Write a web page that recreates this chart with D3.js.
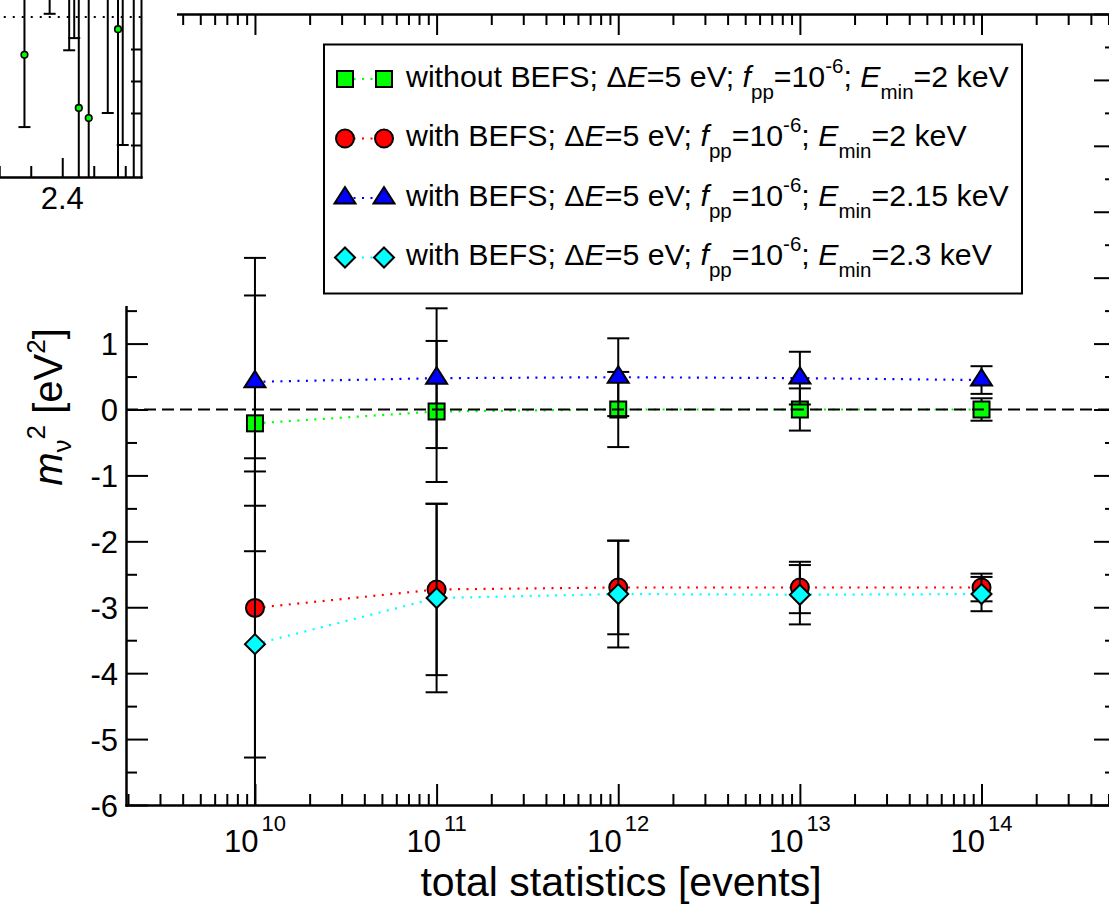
<!DOCTYPE html>
<html>
<head>
<meta charset="utf-8">
<script src="https://cdnjs.cloudflare.com/ajax/libs/d3/7.8.5/d3.min.js"></script>
<style>
  html, body { margin: 0; padding: 0; background: #fff; overflow: hidden; }
  svg { display: block; font-family: "Liberation Sans", Arial, Helvetica, sans-serif; }
</style>
</head>
<body>
<svg id="chart" width="1109" height="904"></svg>
<script>
// ---- data -------------------------------------------------------------
// total statistics (number of events) of each simulated measurement
const statistics = [1e10, 1e11, 1e12, 1e13, 1e14];

// fitted m_nu^2 [eV^2] and its 1-sigma uncertainty
const noBefsEmin2      = [-0.21, -0.03, 0.00, 0.00, 0.00];
const noBefsEmin2Err   = [1.94, 1.07, 0.57, 0.32, 0.17];
const befsEmin2        = [-3.01, -2.73, -2.70, -2.70, -2.70];
const befsEmin2Err     = [2.27, 1.30, 0.71, 0.39, 0.21];
const befsEmin215      = [0.42, 0.475, 0.49, 0.476, 0.447];
const befsEmin215Err   = [1.88, 1.06, 0.59, 0.40, 0.21];
const befsEmin23       = [-3.56, -2.86, -2.80, -2.81, -2.80];
const befsEmin23Err    = [2.62, 1.43, 0.81, 0.45, 0.26];

// legend texts
const seriesNames = ["without BEFS", "with BEFS", "with BEFS", "with BEFS"];
const eMinLabels  = ["2", "2", "2.15", "2.3"];

// axis tick labels
const xTickBase      = "10";
const xTickExponents = ["10", "11", "12", "13", "14"];
const yTickValues    = [-6, -5, -4, -3, -2, -1, 0, 1, 2, 3, 4, 5, 6];

// inset: m_nu^2 as a function of the lower fit boundary E_min [keV]
const insetEmin = [2.376, 2.392, 2.4044, 2.4076, 2.4105, 2.4168, 2.4289, 2.4354, 2.4384, 2.4454];
const insetMass = [-0.59, 0.90, 0.60, 0.80, -1.42, -1.58, 0.50, -0.19, 0.40, 0.60];
const insetErr  = [1.13, 0.85, 1.12, 1.13, 1.75, 1.90, 2.00, 2.40, 2.40, 3.20];
const insetXTicksMajor = [2.3, 2.4];
const insetXTicksMinor = [2.32, 2.34, 2.36, 2.38, 2.42, 2.44];
const insetYTicks = [0.5, -0.5, -1.0, -1.5, -2.0];
const insetXLabels = ["2.4"];

// ---- layout -----------------------------------------------------------
const svg = d3.select("#chart");
const plotL = 126, plotR = 1116, plotT = 14, plotB = 805;

const x = d3.scaleLog().domain([1.95e9, 5.5e14]).range([plotL, plotR]);
const y = d3.scaleLinear().domain([-6, 6]).range([plotB, plotT]);

const series = [
  { values: noBefsEmin2, errors: noBefsEmin2Err, color: "#00ff00", symbol: "square" },
  { values: befsEmin2,   errors: befsEmin2Err,   color: "#ff0000", symbol: "circle" },
  { values: befsEmin215, errors: befsEmin215Err, color: "#0000ff", symbol: "triangle" },
  { values: befsEmin23,  errors: befsEmin23Err,  color: "#00ffff", symbol: "diamond" }
];

// symbol outlines, centred on the data point
function drawSymbol(g, kind, cx, cy, color) {
  const common = s => s.attr("fill", color).attr("stroke", "#000").attr("stroke-width", 2);
  if (kind === "square") {
    common(g.append("rect").attr("x", cx - 8).attr("y", cy - 8).attr("width", 16).attr("height", 16));
  } else if (kind === "circle") {
    common(g.append("circle").attr("cx", cx).attr("cy", cy).attr("r", 9));
  } else if (kind === "triangle") {
    const pts = [[cx, cy - 11], [cx - 10.5, cy + 5.5], [cx + 10.5, cy + 5.5]];
    common(g.append("polygon").attr("points", pts.map(p => p.join(",")).join(" ")));
  } else {
    const pts = [[cx, cy - 10], [cx + 10, cy], [cx, cy + 10], [cx - 10, cy]];
    common(g.append("polygon").attr("points", pts.map(p => p.join(",")).join(" ")));
  }
}

// rich text: parts are [string, kind] with kind "", "i", "sub", "sup"
function richText(textSel, parts, opt) {
  let cur = 0;
  parts.forEach(([t, kind]) => {
    const ts = textSel.append("tspan").text(t);
    let target = 0;
    if (kind === "sub") target = opt.sub;
    if (kind === "sup") target = -opt.sup;
    if (target !== cur) ts.attr("dy", target - cur);
    cur = target;
    if (kind === "sub" || kind === "sup") ts.attr("font-size", opt.small);
    if (kind === "i") ts.attr("font-style", "italic");
    if (kind === "sub" && opt.subDx) ts.attr("dx", opt.subDx);
    if (kind === "sup" && opt.supDx) ts.attr("dx", opt.supDx);
  });
}

// ---- axes / frame -----------------------------------------------------
function styleAxis(g) {
  g.selectAll("line").attr("stroke", "#000").attr("stroke-width", 2);
  g.select(".domain").attr("stroke", "#000").attr("stroke-width", 2).attr("stroke-linecap", "square");
  g.selectAll("text").remove();
}
const decades = statistics.slice();
const minorX = [];
d3.range(9, 15).forEach(e => d3.range(2, 10).forEach(m => {
  const v = m * Math.pow(10, e);
  if (v > x.domain()[0] && v < x.domain()[1]) minorX.push(v);
}));
const yMinor = d3.range(-5.5, 6, 1);

const axesG = svg.append("g");
[[d3.axisBottom, plotB], [d3.axisTop, plotT]].forEach(([gen, pos]) => {
  axesG.append("g").attr("transform", `translate(0,${pos})`)
    .call(gen(x).tickValues(decades).tickSize(-21).tickSizeOuter(0).tickFormat("")).call(styleAxis);
  axesG.append("g").attr("transform", `translate(0,${pos})`)
    .call(gen(x).tickValues(minorX).tickSize(-11).tickSizeOuter(0).tickFormat("")).call(styleAxis);
});
[[d3.axisLeft, plotL], [d3.axisRight, plotR]].forEach(([gen, pos]) => {
  axesG.append("g").attr("transform", `translate(${pos},0)`)
    .call(gen(y).tickValues(yTickValues).tickSize(-22).tickSizeOuter(0).tickFormat("")).call(styleAxis);
  axesG.append("g").attr("transform", `translate(${pos},0)`)
    .call(gen(y).tickValues(yMinor).tickSize(-11).tickSizeOuter(0).tickFormat("")).call(styleAxis);
});

// ---- data -------------------------------------------------------------
svg.append("clipPath").attr("id", "plotClip")
  .append("rect").attr("x", plotL).attr("y", plotT).attr("width", plotR - plotL).attr("height", plotB - plotT);
const dataG = svg.append("g").attr("clip-path", "url(#plotClip)");

const line = d3.line().x(d => x(d[0])).y(d => y(d[1]));
series.forEach(s => {
  const g = dataG.append("g");
  const pts = statistics.map((t, i) => [t, s.values[i], s.errors[i]]);
  g.append("path").datum(pts).attr("d", line)
    .attr("fill", "none").attr("stroke", s.color).attr("stroke-width", 2.2)
    .attr("stroke-dasharray", "2,6.5");
  pts.forEach(([t, v, e]) => {
    const cx = x(t), y0 = y(v - e), y1 = y(v + e);
    g.append("line").attr("x1", cx).attr("x2", cx).attr("y1", y0).attr("y2", y1)
      .attr("stroke", "#000").attr("stroke-width", 2);
    [y0, y1].forEach(yy => g.append("line")
      .attr("x1", cx - 11).attr("x2", cx + 11).attr("y1", yy).attr("y2", yy)
      .attr("stroke", "#000").attr("stroke-width", 2));
  });
  pts.forEach(([t, v]) => drawSymbol(g, s.symbol, x(t), y(v), s.color));
});

// reference line at m_nu^2 = 0
dataG.append("line").attr("x1", plotL).attr("x2", plotR).attr("y1", y(0)).attr("y2", y(0))
  .attr("stroke", "#000").attr("stroke-width", 2).attr("stroke-dasharray", "12,6");

// ---- legend -----------------------------------------------------------
const legG = svg.append("g");
legG.append("rect").attr("x", 324).attr("y", 44.5).attr("width", 698).attr("height", 249)
  .attr("fill", "#fff").attr("stroke", "#000").attr("stroke-width", 2);
series.forEach((s, i) => {
  const base = 86.5 + i * 59.5, cy = base - 7.5;
  legG.append("line").attr("x1", 345).attr("x2", 384).attr("y1", cy).attr("y2", cy)
    .attr("stroke", s.color).attr("stroke-width", 2.2).attr("stroke-dasharray", "2,6.5");
  drawSymbol(legG, s.symbol, 345, cy, s.color);
  drawSymbol(legG, s.symbol, 384, cy, s.color);
  const t = legG.append("text").attr("x", 406).attr("y", base).attr("font-size", 30.3).attr("fill", "#000");
  richText(t, [
    [seriesNames[i] + "; \u0394", ""], ["E", "i"], ["=5 eV; ", ""],
    ["f", "i"], ["pp", "sub"], ["=10", ""], ["-6", "sup"], ["; ", ""],
    ["E", "i"], ["min", "sub"], ["=" + eMinLabels[i] + " keV", ""]
  ], { sub: 12, sup: 14, small: 20.5 });
});

// ---- inset ------------------------------------------------------------
const coverR = 177, coverB = 306;
svg.append("rect").attr("x", 0).attr("y", 0).attr("width", coverR).attr("height", coverB).attr("fill", "#fff");

const inR = 141, inB = 177;
const ix = d3.scaleLinear().domain([2.3, 2.45]).range([inR - 0.15 * 1575, inR]);
const iy = d3.scaleLinear().domain([-2.5, 2.0]).range([inB, inB - 4.5 * 64]);

svg.append("clipPath").attr("id", "insetClip")
  .append("rect").attr("x", ix.range()[0]).attr("y", iy.range()[1])
  .attr("width", ix.range()[1] - ix.range()[0]).attr("height", iy.range()[0] - iy.range()[1]);
const inG = svg.append("g");
const inData = inG.append("g").attr("clip-path", "url(#insetClip)");

inData.append("line").attr("x1", ix.range()[0]).attr("x2", inR).attr("y1", iy(0)).attr("y2", iy(0))
  .attr("stroke", "#000").attr("stroke-width", 2).attr("stroke-dasharray", "2,7");
insetEmin.forEach((e, i) => {
  const cx = ix(e), y0 = iy(insetMass[i] - insetErr[i]), y1 = iy(insetMass[i] + insetErr[i]);
  inData.append("line").attr("x1", cx).attr("x2", cx).attr("y1", y0).attr("y2", y1)
    .attr("stroke", "#000").attr("stroke-width", 2);
  [y0, y1].forEach(yy => inData.append("line").attr("x1", cx - 6).attr("x2", cx + 6)
    .attr("y1", yy).attr("y2", yy).attr("stroke", "#000").attr("stroke-width", 2));
});
insetEmin.forEach((e, i) => {
  inData.append("circle").attr("cx", ix(e)).attr("cy", iy(insetMass[i])).attr("r", 3.3)
    .attr("fill", "#00ff00").attr("stroke", "#000").attr("stroke-width", 1.6);
});

inG.append("g").attr("transform", `translate(0,${inB})`)
  .call(d3.axisBottom(ix).tickValues(insetXTicksMajor).tickSize(-19).tickSizeOuter(0).tickFormat("")).call(styleAxis);
inG.append("g").attr("transform", `translate(0,${inB})`)
  .call(d3.axisBottom(ix).tickValues(insetXTicksMinor).tickSize(-11).tickSizeOuter(0).tickFormat("")).call(styleAxis);
inG.append("g").attr("transform", `translate(${inR},0)`)
  .call(d3.axisRight(iy).tickValues(insetYTicks).tickSize(-10).tickSizeOuter(0).tickFormat("")).call(styleAxis);

inG.selectAll("text.ixl").data(insetXLabels).join("text").attr("class", "ixl")
  .attr("x", d => ix(+d)).attr("y", 209).attr("text-anchor", "middle")
  .attr("font-size", 31).text(d => d);

// ---- tick labels and titles ------------------------------------------
xTickExponents.forEach((e, i) => {
  const t = svg.append("text").attr("x", x(statistics[i])).attr("y", 852)
    .attr("text-anchor", "middle").attr("font-size", 31);
  richText(t, [[xTickBase, ""], [e, "sup"]], { sub: 0, sup: 21, small: 22, supDx: 3 });
});

svg.selectAll("text.ytl").data(yTickValues.filter(v => y(v) > coverB)).join("text").attr("class", "ytl")
  .attr("x", 118).attr("y", d => y(d) + 11.5).attr("text-anchor", "end")
  .attr("font-size", 31).text(d => String(d));

svg.append("text").attr("x", 621).attr("y", 896).attr("text-anchor", "middle")
  .attr("font-size", 41).text("total statistics [events]");

const yl = svg.append("text").attr("transform", "translate(62,407) rotate(-90)")
  .attr("text-anchor", "middle").attr("font-size", 40);
richText(yl, [["m", "i"], ["\u03bd", "sub"], ["2", "sup"], [" [eV", ""], ["2", "sup"], ["]", ""]],
  { sub: 9, sup: 17, small: 26 });
</script>
</body>
</html>
